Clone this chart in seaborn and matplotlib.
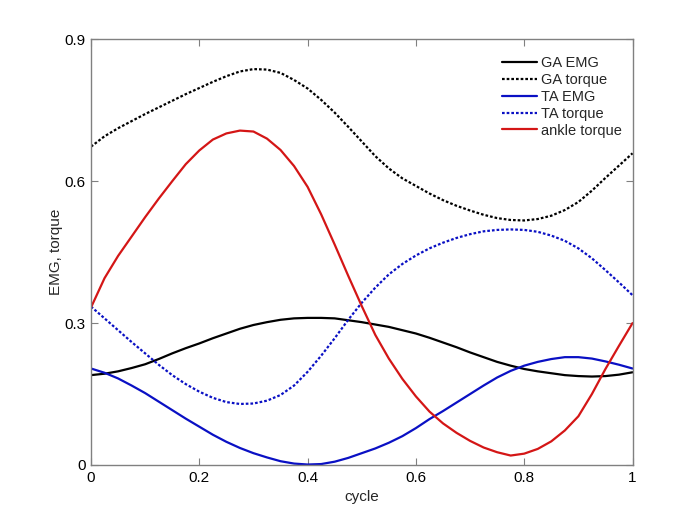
import numpy as np
import pandas as pd
import matplotlib
matplotlib.use('Agg')
import matplotlib.pyplot as plt
import seaborn as sns

cycle = [0.0, 0.025, 0.05, 0.075, 0.1, 0.125, 0.15, 0.175, 0.2, 0.225,
         0.25, 0.275, 0.3, 0.325, 0.35, 0.375, 0.4, 0.425, 0.45, 0.475,
         0.5, 0.525, 0.55, 0.575, 0.6, 0.625, 0.65, 0.675, 0.7, 0.725,
         0.75, 0.775, 0.8, 0.825, 0.85, 0.875, 0.9, 0.925, 0.95, 0.975, 1.0]

ga_emg = [0.190, 0.193, 0.198, 0.205, 0.213, 0.224, 0.236, 0.247, 0.257, 0.268,
          0.278, 0.288, 0.296, 0.302, 0.307, 0.310, 0.311, 0.311, 0.310, 0.306,
          0.302, 0.297, 0.292, 0.285, 0.278, 0.269, 0.259, 0.249, 0.238, 0.228,
          0.218, 0.210, 0.203, 0.198, 0.194, 0.190, 0.188, 0.187, 0.188, 0.191, 0.196]

ga_torque = [0.673, 0.695, 0.712, 0.727, 0.742, 0.756, 0.770, 0.784, 0.797, 0.810,
             0.822, 0.832, 0.837, 0.836, 0.829, 0.814, 0.796, 0.772, 0.745, 0.715,
             0.684, 0.653, 0.627, 0.606, 0.590, 0.574, 0.560, 0.548, 0.538, 0.529,
             0.522, 0.518, 0.517, 0.520, 0.527, 0.539, 0.556, 0.580, 0.607, 0.633, 0.659]

ta_emg = [0.204, 0.195, 0.183, 0.168, 0.152, 0.134, 0.116, 0.098, 0.081, 0.064,
          0.049, 0.036, 0.025, 0.016, 0.008, 0.003, 0.001, 0.002, 0.007, 0.015,
          0.025, 0.035, 0.047, 0.061, 0.078, 0.097, 0.114, 0.132, 0.150, 0.168,
          0.185, 0.199, 0.210, 0.218, 0.224, 0.228, 0.228, 0.225, 0.219, 0.212, 0.204]

ta_torque = [0.335, 0.310, 0.285, 0.260, 0.236, 0.212, 0.190, 0.171, 0.155, 0.142,
             0.133, 0.129, 0.130, 0.136, 0.148, 0.168, 0.197, 0.231, 0.268, 0.307,
             0.343, 0.375, 0.403, 0.425, 0.443, 0.458, 0.470, 0.480, 0.488, 0.494,
             0.497, 0.498, 0.497, 0.493, 0.485, 0.474, 0.458, 0.437, 0.412, 0.386, 0.359]

ankle_torque = [0.333, 0.395, 0.442, 0.483, 0.524, 0.563, 0.600, 0.636, 0.665, 0.688,
                0.701, 0.707, 0.705, 0.690, 0.666, 0.632, 0.588, 0.530, 0.466, 0.400,
                0.336, 0.275, 0.225, 0.182, 0.145, 0.113, 0.088, 0.068, 0.051, 0.037,
                0.027, 0.020, 0.024, 0.034, 0.050, 0.073, 0.103, 0.150, 0.203, 0.252, 0.300]

labels = ['GA EMG', 'GA torque', 'TA EMG', 'TA torque', 'ankle torque']

sns.set_style('ticks')
plt.rcParams['font.family'] = ['Liberation Sans', 'DejaVu Sans']

fig = plt.figure(figsize=(7, 5.24), dpi=100)
ax = fig.add_axes([0.13, 0.1126, 0.7736, 0.8124])

blue = '#0a10c4'
red = '#d41616'
dot = (0, (1.2, 0.9))
lw = 1.6

sns.lineplot(x=cycle, y=ga_emg, color='black', linewidth=lw, label=labels[0], ax=ax)
sns.lineplot(x=cycle, y=ga_torque, color='black', linewidth=lw, linestyle=dot, label=labels[1], ax=ax)
sns.lineplot(x=cycle, y=ta_emg, color=blue, linewidth=lw, label=labels[2], ax=ax)
sns.lineplot(x=cycle, y=ta_torque, color=blue, linewidth=lw, linestyle=dot, label=labels[3], ax=ax)
sns.lineplot(x=cycle, y=ankle_torque, color=red, linewidth=lw, label=labels[4], ax=ax)

ax.set_xlim(0, 1)
ax.set_ylim(0, 0.9)
ax.set_xticks([0, 0.2, 0.4, 0.6, 0.8, 1])
ax.set_xticklabels(['0', '0.2', '0.4', '0.6', '0.8', '1'])
ax.set_yticks([0, 0.3, 0.6, 0.9])
ax.set_yticklabels(['0', '0.3', '0.6', '0.9'])
ax.set_xlabel('cycle', fontsize=11)
ax.set_ylabel('EMG, torque', fontsize=11, labelpad=1)

# matlab style box with inward ticks on every side
for s in ax.spines.values():
    s.set_visible(True)
    s.set_color('#808080')
    s.set_linewidth(1.0)
ax.tick_params(direction='in', length=5, width=0.8, color='#808080',
               top=True, right=True, labelsize=11, labelcolor='black', pad=4)

ax.legend(loc='upper right', bbox_to_anchor=(1.0, 0.985), frameon=False, fontsize=10.5,
          handlelength=2.4, handletextpad=0.3, labelspacing=0.2, borderaxespad=0.3)

plt.savefig('out.png', dpi=100)
